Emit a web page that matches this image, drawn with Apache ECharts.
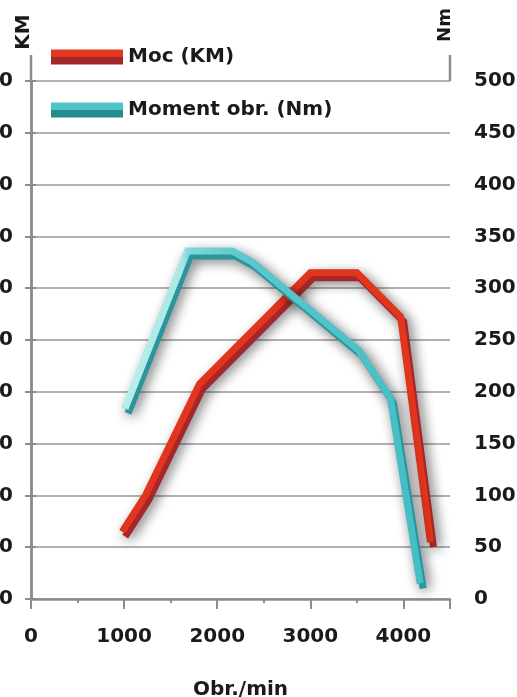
<!DOCTYPE html>
<html><head><meta charset="utf-8">
<script src="https://cdn.jsdelivr.net/npm/echarts@6/dist/echarts.min.js"></script>
<style>html,body{margin:0;padding:0;background:#fff}#c{width:517px;height:697px}</style>
</head><body><div id="c"></div>
<script>
// ---- data ----
const powerName = 'Moc (KM)';
const torqueName = 'Moment obr. (Nm)';
const powerRpm = [980, 1230, 1810, 3000, 3500, 3970, 4290];
const powerKM  = [26, 40, 83, 126, 126, 109, 22];
const torqueRpm = [1010, 1680, 2160, 2380, 3520, 3860, 4180];
const torqueNm  = [184, 336, 336, 325, 240, 194, 15];
const xTicks = [0, 1000, 2000, 3000, 4000];
const kmTicks = [0, 20, 40, 60, 80, 100, 120, 140, 160, 180, 200];
const nmTicks = [0, 50, 100, 150, 200, 250, 300, 350, 400, 450, 500];

const powerData = powerRpm.map((r, i) => [r, powerKM[i]]);
const torqueData = torqueRpm.map((r, i) => [r, torqueNm[i]]);

const FONT = 'DejaVu Sans';
const AX = '#8c8c8c';
const txt = {fontFamily: FONT, fontWeight: 'bold', fontSize: 20, color: '#1a1a1a'};
const G = echarts.graphic.LinearGradient;

const redTop = '#e3351d', redSide = '#a6272b';
const cyanSide = '#2a969c';
const cyanGrad = new G(0, 0, 1, 0, [
  {offset: 0, color: '#b9efec'}, {offset: 0.2, color: '#a8e8e6'},
  {offset: 0.22, color: '#80d8da'}, {offset: 0.4, color: '#5cc8cd'},
  {offset: 1, color: '#44bdc5'}]);

function shadowSeries(name, data, yi) {
  return {name: name + ' ', type: 'line', yAxisIndex: yi, data, showSymbol: false, silent: true,
    lineStyle: {color: '#555', width: 6, join: 'miter',
      shadowColor: 'rgba(20,20,20,1)', shadowBlur: 13, shadowOffsetX: 5, shadowOffsetY: 6}};
}
function mainSeries(name, data, yi, color, side) {
  return {name, type: 'line', yAxisIndex: yi, data, showSymbol: false,
    itemStyle: {color: side},
    lineStyle: {color, width: 7, join: 'miter', cap: 'butt',
      shadowColor: side, shadowBlur: 0, shadowOffsetX: 3, shadowOffsetY: 5}};
}

const chart = echarts.init(document.getElementById('c'));
chart.setOption({
  animation: false,
  grid: {left: 31, right: 67, top: 81, bottom: 98, containLabel: false, outerBoundsMode: 'none'},
  legend: {
    orient: 'vertical', left: 51, top: 47, padding: 0, itemWidth: 72, itemHeight: 15, itemGap: 33,
    icon: 'rect', textStyle: Object.assign({lineHeight: 20}, txt),
    data: [
      {name: powerName, itemStyle: {borderWidth: 0, color: new G(0, 0, 0, 1, [
        {offset: 0, color: '#e4371f'}, {offset: 0.5, color: '#e4371f'},
        {offset: 0.5, color: '#a3272a'}, {offset: 1, color: '#a3272a'}])}},
      {name: torqueName, itemStyle: {borderWidth: 0, color: new G(0, 0, 0, 1, [
        {offset: 0, color: '#4fc3c8'}, {offset: 0.5, color: '#4fc3c8'},
        {offset: 0.5, color: '#238a8e'}, {offset: 1, color: '#238a8e'}])}}
    ]
  },
  xAxis: [{
    type: 'value', min: xTicks[0], max: 4500, interval: 1000,
    axisLine: {lineStyle: {color: AX, width: 2.5}},
    axisTick: {length: 10, lineStyle: {color: AX, width: 2}},
    axisLabel: Object.assign({margin: 28, formatter: v => xTicks.includes(v) ? String(v) : ''}, txt),
    splitLine: {show: false},
    name: 'Obr./min', nameLocation: 'middle', nameGap: 81, nameTextStyle: txt
  }, {
    type: 'value', min: 0, max: 4500, interval: 500, position: 'bottom',
    axisLine: {show: false}, axisTick: {length: 4, lineStyle: {color: AX, width: 2}},
    axisLabel: {show: false}, splitLine: {show: false}
  }],
  yAxis: [{
    type: 'value', position: 'left', min: kmTicks[0], max: kmTicks[kmTicks.length - 1], interval: 20,
    axisLine: {show: true, lineStyle: {color: AX, width: 2.5}},
    axisTick: {show: true, length: 6, lineStyle: {color: AX, width: 2}},
    axisLabel: Object.assign({margin: 18}, txt),
    splitLine: {show: true, lineStyle: {color: '#979797', width: 1.6}}
  }, {
    type: 'value', position: 'right', min: nmTicks[0], max: nmTicks[nmTicks.length - 1], interval: 50,
    axisLine: {show: true, lineStyle: {color: AX, width: 2.5}},
    axisTick: {show: true, length: 5, lineStyle: {color: AX, width: 2}},
    axisLabel: Object.assign({margin: 24}, txt),
    splitLine: {show: false}
  }],
  series: [
    shadowSeries(powerName, powerData, 0),
    mainSeries(powerName, powerData, 0, redTop, redSide),
    shadowSeries(torqueName, torqueData, 1),
    mainSeries(torqueName, torqueData, 1, cyanGrad, cyanSide)
  ]
});

// axis line extensions above the plot and rotated unit titles
const tl = chart.convertToPixel({xAxisIndex: 0, yAxisIndex: 0}, [0, 200]);
const tr = chart.convertToPixel({xAxisIndex: 0, yAxisIndex: 0}, [4500, 200]);
chart.setOption({graphic: [
  {type: 'line', shape: {x1: tl[0], y1: tl[1], x2: tl[0], y2: tl[1] - 26}, style: {stroke: AX, lineWidth: 2.5}},
  {type: 'line', shape: {x1: tr[0], y1: tr[1], x2: tr[0], y2: tr[1] - 26}, style: {stroke: AX, lineWidth: 2.5}},
  {type: 'text', x: 24, y: 32, rotation: Math.PI / 2,
    style: {text: 'KM', align: 'center', verticalAlign: 'middle', font: 'bold 20px "DejaVu Sans"', fill: '#1a1a1a'}},
  {type: 'text', x: 445, y: 25, rotation: Math.PI / 2,
    style: {text: 'Nm', align: 'center', verticalAlign: 'middle', font: 'bold 18px "DejaVu Sans"', fill: '#1a1a1a'}}
]});
</script></body></html>
